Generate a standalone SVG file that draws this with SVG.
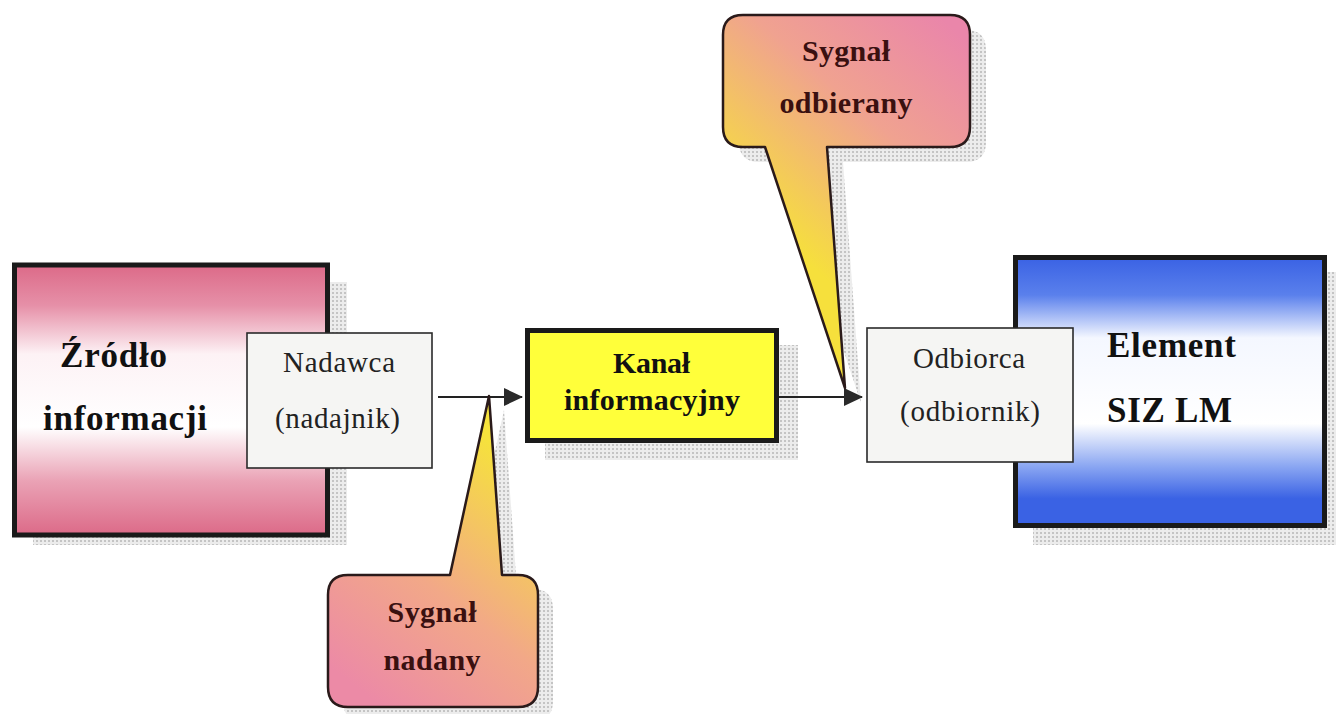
<svg xmlns="http://www.w3.org/2000/svg" width="1336" height="714" viewBox="0 0 1336 714">
<defs>
  <pattern id="dots" width="4" height="4" patternUnits="userSpaceOnUse">
    <rect width="4" height="4" fill="#ececec"/>
    <rect width="2" height="2" fill="#c4c4c4"/>
  </pattern>
  <linearGradient id="pinkG" x1="0" y1="0" x2="0" y2="1">
    <stop offset="0" stop-color="#dc6a88"/>
    <stop offset="0.15" stop-color="#e690a8"/>
    <stop offset="0.33" stop-color="#fdf2f5"/>
    <stop offset="0.6" stop-color="#ffffff"/>
    <stop offset="0.8" stop-color="#eaa2b5"/>
    <stop offset="1" stop-color="#dc6a88"/>
  </linearGradient>
  <linearGradient id="blueG" x1="0" y1="0" x2="0" y2="1">
    <stop offset="0" stop-color="#3a62e4"/>
    <stop offset="0.14" stop-color="#5a80ec"/>
    <stop offset="0.3" stop-color="#f4f7ff"/>
    <stop offset="0.62" stop-color="#ffffff"/>
    <stop offset="0.78" stop-color="#8aa6f2"/>
    <stop offset="0.9" stop-color="#3a62e4"/>
    <stop offset="1" stop-color="#3a62e4"/>
  </linearGradient>
  <linearGradient id="callBot" gradientUnits="userSpaceOnUse" x1="360" y1="690" x2="530" y2="470">
    <stop offset="0" stop-color="#ec8aa6"/>
    <stop offset="0.45" stop-color="#f2a888"/>
    <stop offset="1" stop-color="#f6e23c"/>
  </linearGradient>
  <linearGradient id="callTop" gradientUnits="userSpaceOnUse" x1="950" y1="25" x2="770" y2="230">
    <stop offset="0" stop-color="#ea86aa"/>
    <stop offset="0.45" stop-color="#f0a290"/>
    <stop offset="1" stop-color="#f6e03c"/>
  </linearGradient>
  <marker id="arr" viewBox="0 0 20 20" refX="18" refY="10" markerWidth="20" markerHeight="20" markerUnits="userSpaceOnUse" orient="auto">
    <path d="M0,1 L19,10 L0,19 Z" fill="#2a2a2a"/>
  </marker>
  <style>
    .thick { stroke: #1a1a1a; stroke-width: 5; }
    .thin { fill: #f5f5f3; stroke: #2a2a2a; stroke-width: 1.6; }
    .shadow { fill: url(#dots); }
    .bold { font-family: "Liberation Serif", "Times New Roman", serif; font-weight: bold; fill: #111; }
    .reg { font-family: "Liberation Serif", "Times New Roman", serif; fill: #222; }
    .callt { font-family: "Liberation Serif", "Times New Roman", serif; font-weight: bold; fill: #3a1010; font-size: 30px; text-anchor: middle; }
    .callout { stroke: #2a1a1a; stroke-width: 2.5; stroke-linejoin: round; }
    .conn { stroke: #222; stroke-width: 2; fill: none; }
  </style>
</defs>
<rect width="1336" height="714" fill="#ffffff"/>

<g id="callout-odbierany">
  <path class="shadow" transform="translate(16,15)" d="M743,15 L950,15 Q970,15 970,35 L970,127 Q970,147 950,147 L827,147 L845,388 L765,147 L743,147 Q723,147 723,127 L723,35 Q723,15 743,15 Z"/>
</g>

<g id="zrodlo">
  <rect class="shadow" x="33" y="282" width="314" height="263"/>
  <rect class="thick" x="14.5" y="265" width="313" height="270" fill="url(#pinkG)"/>
  <text class="bold" x="60" y="367" font-size="35" textLength="107" lengthAdjust="spacing">Źródło</text>
  <text class="bold" x="43" y="430" font-size="35" textLength="164" lengthAdjust="spacing">informacji</text>
</g>

<g id="nadawca">
  <rect class="thin" x="247" y="333" width="185" height="135"/>
  <text class="reg" x="283" y="372" font-size="29" textLength="112" lengthAdjust="spacing">Nadawca</text>
  <text class="reg" x="275" y="428" font-size="29" textLength="125" lengthAdjust="spacing">(nadajnik)</text>
</g>

<g id="kanal">
  <rect class="shadow" x="545" y="345" width="253" height="115"/>
  <rect class="thick" x="527.5" y="330.5" width="249" height="110" fill="#ffff3a"/>
  <text class="bold" x="613" y="373" font-size="30" textLength="77" lengthAdjust="spacing">Kanał</text>
  <text class="bold" x="564" y="410" font-size="30" textLength="176" lengthAdjust="spacing">informacyjny</text>
</g>

<g id="element">
  <rect class="shadow" x="1033" y="272" width="303" height="273"/>
  <rect class="thick" x="1015.5" y="257.5" width="309" height="268" fill="url(#blueG)"/>
  <text class="bold" x="1107" y="357" font-size="35" textLength="129" lengthAdjust="spacing">Element</text>
  <text class="bold" x="1107" y="422" font-size="35" textLength="125" lengthAdjust="spacing">SIZ LM</text>
</g>

<g id="odbiorca">
  <rect class="thin" x="867" y="328" width="206" height="134"/>
  <text class="reg" x="913" y="368" font-size="29" textLength="112" lengthAdjust="spacing">Odbiorca</text>
  <text class="reg" x="900" y="421" font-size="29" textLength="140" lengthAdjust="spacing">(odbiornik)</text>
</g>

<g id="connectors">
  <line class="conn" x1="438" y1="397" x2="522" y2="397" marker-end="url(#arr)"/>
  <line class="conn" x1="779" y1="397" x2="862" y2="397" marker-end="url(#arr)"/>
</g>

<g id="callout-nadany">
  <path class="shadow" transform="translate(15,14)" d="M348,575 L450,575 L489,396 L502,575 L518,575 Q538,575 538,595 L538,687 Q538,707 518,707 L348,707 Q328,707 328,687 L328,595 Q328,575 348,575 Z"/>
  <path class="callout" fill="url(#callBot)" d="M348,575 L450,575 L489,396 L502,575 L518,575 Q538,575 538,595 L538,687 Q538,707 518,707 L348,707 Q328,707 328,687 L328,595 Q328,575 348,575 Z"/>
  <text class="callt" x="432" y="622" textLength="89" lengthAdjust="spacing">Sygnał</text>
  <text class="callt" x="432" y="670" textLength="97" lengthAdjust="spacing">nadany</text>
</g>

<g id="callout-odbierany-body">
  <path class="callout" fill="url(#callTop)" d="M743,15 L950,15 Q970,15 970,35 L970,127 Q970,147 950,147 L827,147 L845,388 L765,147 L743,147 Q723,147 723,127 L723,35 Q723,15 743,15 Z"/>
  <text class="callt" x="846" y="61" textLength="88" lengthAdjust="spacing">Sygnał</text>
  <text class="callt" x="846" y="113" textLength="133" lengthAdjust="spacing">odbierany</text>
</g>
</svg>
